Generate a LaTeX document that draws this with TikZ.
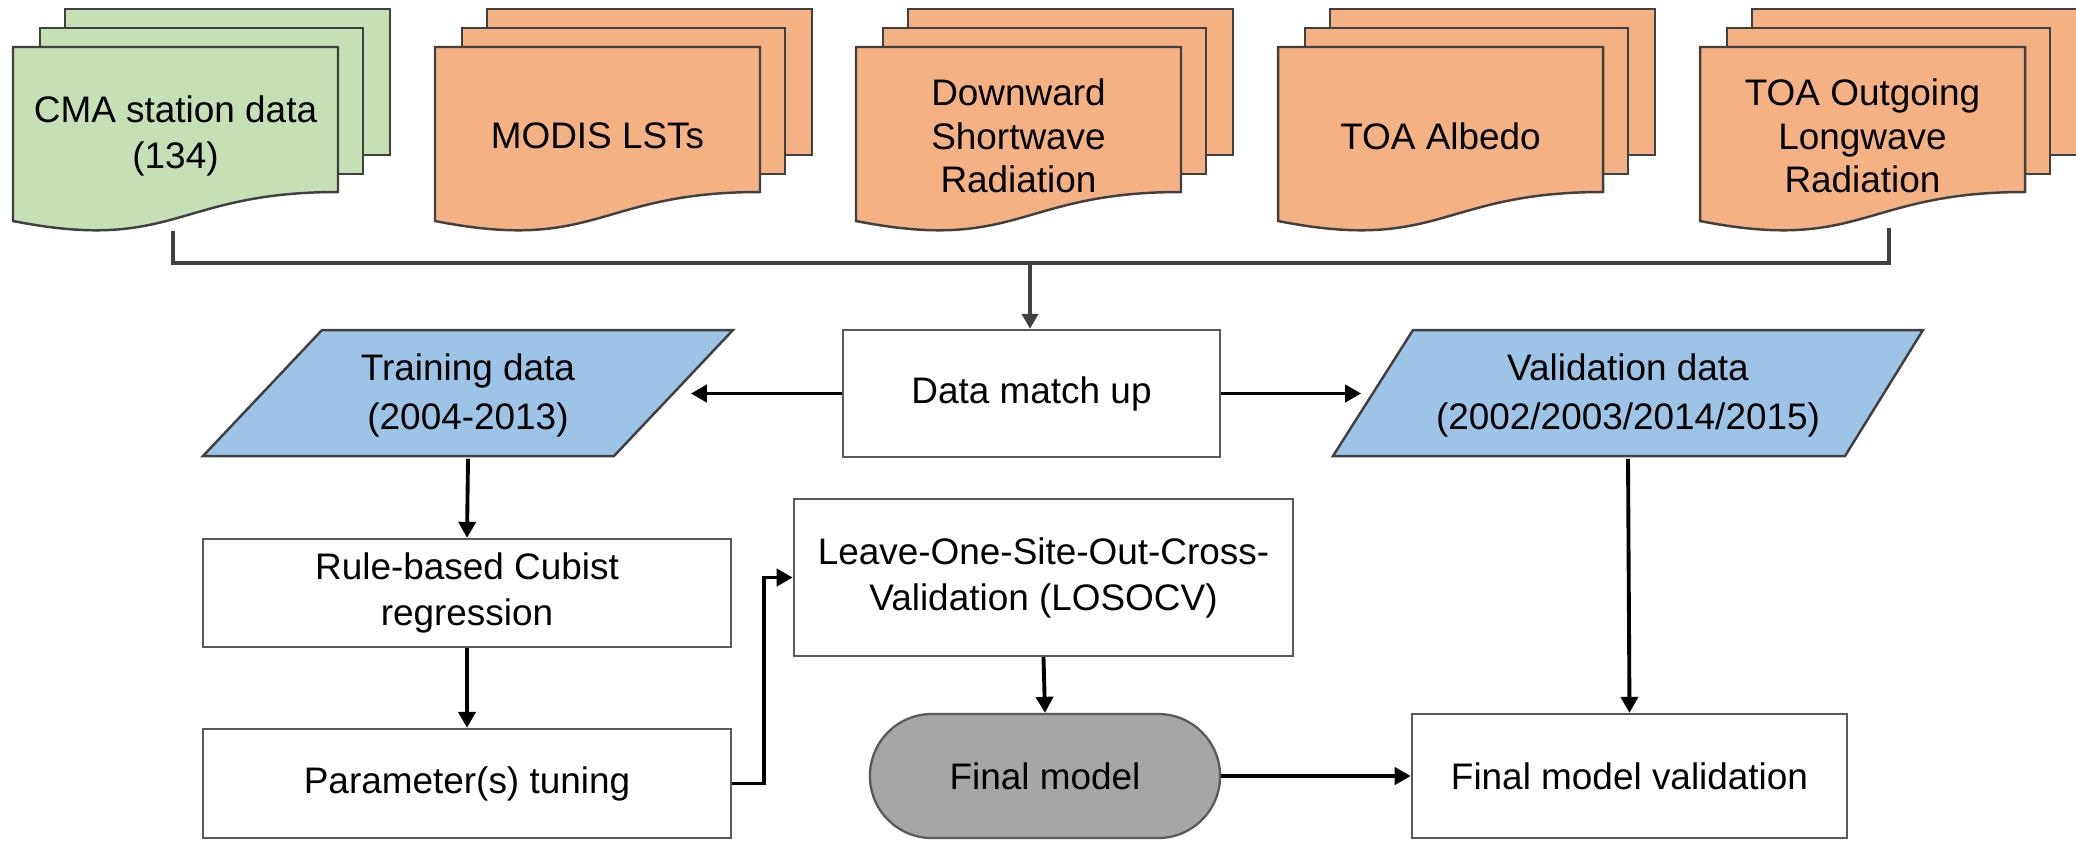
\documentclass[tikz,border=0pt]{standalone}
\usepackage{fontspec}
\setmainfont{Liberation Sans}
\usetikzlibrary{arrows.meta}
\definecolor{docgreen}{HTML}{C5E0B4}
\definecolor{docorange}{HTML}{F4B183}
\definecolor{parablue}{HTML}{9DC3E6}
\definecolor{modelgray}{HTML}{A6A6A6}
\definecolor{edgegray}{HTML}{404040}
\definecolor{boxedge}{HTML}{595959}
\tikzset{
 lbl/.style={font=\fontsize{10.5}{13.1}\selectfont, align=center, inner sep=0pt, text=black},
 docline/.style={draw=edgegray, line width=0.7pt, line join=miter},
 boxnode/.style={lbl, draw=boxedge, line width=0.65pt, fill=white, rectangle},
 arr/.style={draw=black, line width=1.1pt, -{Triangle[length=0.16cm,width=0.17cm]}},
 bracket/.style={draw=edgegray, line width=1.1pt},
 garr/.style={draw=edgegray, line width=1.1pt, -{Triangle[length=0.15cm,width=0.16cm]}},
}
\newcommand{\docstack}[5]{%
 \filldraw[docline, fill=#2] ({#1+52},9) rectangle ({#1+377},155);
 \filldraw[docline, fill=#2] ({#1+27},28) rectangle ({#1+350},174);
 \filldraw[docline, fill=#2] (#1,47) -- ({#1+325},47) -- ({#1+325},192)
   .. controls ({#1+162.5},192) and ({#1+162.5},253) .. (#1,221) -- cycle;
 \node[lbl, font=\fontsize{10.5}{#5}\selectfont] (#3) at ({#1+162.5},136) {#4};
}
\begin{document}
\begin{tikzpicture}[x=0.01cm,y=-0.01cm]
\useasboundingbox (0,0) rectangle (2076,841);
% input documents
\docstack{13}{docgreen}{cma}{CMA station data\\(134)}{13.1}
\docstack{435}{docorange}{modis}{MODIS LSTs}{12.4}
\docstack{856}{docorange}{dsr}{Downward\\Shortwave\\Radiation}{12.4}
\docstack{1278}{docorange}{alb}{TOA Albedo}{12.4}
\docstack{1700}{docorange}{olr}{TOA Outgoing\\Longwave\\Radiation}{12.4}
% bracket
\coordinate (cmab) at (173,231);
\coordinate (olrb) at (1889,228);
\coordinate (jn) at (1030,263);
% parallelograms
\filldraw[docline, fill=parablue] (322,330) -- (733,330) -- (614,456) -- (203,456) -- cycle;
\node[lbl, font=\fontsize{10.5}{13.9}\selectfont, minimum width=4.44cm, minimum height=1.26cm] (train) at (468,395) {Training data\\(2004-2013)};
\filldraw[docline, fill=parablue] (1413,330) -- (1923,330) -- (1845,456) -- (1333,456) -- cycle;
\node[lbl, font=\fontsize{10.5}{13.9}\selectfont, minimum width=5.32cm, minimum height=1.26cm] (val) at (1628,395) {Validation data\\(2002/2003/2014/2015)};
% boxes
\node[boxnode, minimum width=3.77cm, minimum height=1.27cm] (match) at (1031.5,393.5) {Data match up};
\node[boxnode, minimum width=5.28cm, minimum height=1.08cm] (rule) at (467,593) {Rule-based Cubist\\regression};
\node[boxnode, minimum width=5.28cm, minimum height=1.09cm] (param) at (467,783.5) {Parameter(s) tuning};
\node[boxnode, minimum width=4.99cm, minimum height=1.57cm] (loso) at (1043.5,577.5) {Leave-One-Site-Out-Cross-\\Validation (LOSOCV)};
\node[boxnode, fill=modelgray, rounded corners=0.62cm, minimum width=3.5cm, minimum height=1.24cm] (final) at (1045,776) {Final model};
\node[boxnode, minimum width=4.35cm, minimum height=1.24cm] (fmv) at (1629.5,776) {Final model validation};
% connectors
\draw[bracket] (cmab) |- (jn) -| (olrb);
\draw[garr] (jn) -- (jn |- match.north);
\draw[arr] (match.west) -- (train.east |- match.west);
\draw[arr] (match.east) -- (val.west |- match.east);
\draw[arr] (train.south) -- (rule.north);
\draw[arr] (rule.south) -- (param.north);
\draw[arr] (param.east) -- ++(31.5,0) |- (loso.west);
\draw[arr] (loso.south) -- (final.north);
\draw[arr] (final.east) -- (fmv.west);
\draw[arr] (val.south) -- (fmv.north);
\end{tikzpicture}
\end{document}
